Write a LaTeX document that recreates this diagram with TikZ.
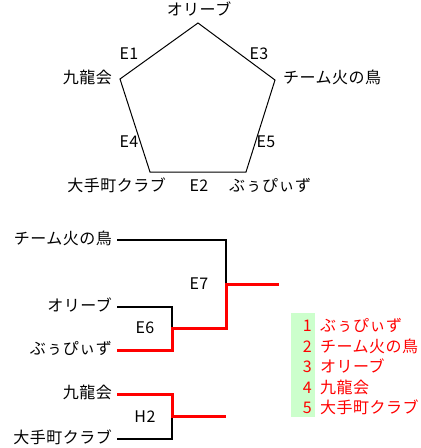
\documentclass[tikz,border=0pt]{standalone}
\usepackage{fontspec}
\setmainfont[LetterSpace=3]{Noto Sans CJK JP}
\usetikzlibrary{positioning}
\definecolor{winred}{RGB}{255,0,0}
\definecolor{rankgreen}{RGB}{204,255,204}

\begin{document}
\begin{tikzpicture}[
    x=1pt, y=-1pt,
    label/.style={inner sep=0pt, font=\fontsize{16}{16}\selectfont, text height=14pt, text depth=2pt},
    rank/.style={label, text=winred},
    pent/.style={line width=1pt},
    lose/.style={line width=2pt},
    win/.style={line width=3pt, draw=winred}
]
\useasboundingbox (0,0) rectangle (421,448);

% Pentagon (league)
\coordinate (vOlive) at (198,23);
\coordinate (vKyu) at (120,79);
\coordinate (vFire) at (275,80);
\coordinate (vOte) at (150,172);
\coordinate (vPuu) at (246,172);

\node[label] (olive) at (199,9) {オリーブ};
\node[label, anchor=east] (kyu) at (112,77) {九龍会};
\node[label, anchor=west] (fire) at (283,77) {チーム火の鳥};
\node[label, anchor=east] (ote) at (166,185) {大手町クラブ};
\node[label, anchor=west] (puu) at (229,185) {ぶぅぴぃず};

\draw[pent] (vOlive) -- (vFire) -- (vPuu) -- (vOte) -- (vKyu) -- cycle;

\node[label] (e1) at (129,53) {E1};
\node[label] (e3) at (259,53) {E3};
\node[label] (e4) at (129,141) {E4};
\node[label] (e5) at (266,141) {E5};
\node[label] (e2) at (199,185) {E2};

% Bracket (tournament)
\node[label, anchor=east] (tFire) at (112,238.5) {チーム火の鳥};
\node[label, anchor=east] (tOlive) at (112,305.5) {オリーブ};
\node[label, anchor=east] (tPuu) at (112,348.5) {ぶぅぴぃず};
\node[label, anchor=east] (tKyu) at (112,392.5) {九龍会};
\node[label, anchor=east] (tOte) at (112,437.5) {大手町クラブ};

\coordinate (sFire) at (117,240);
\coordinate (sOlive) at (117,307);
\coordinate (sPuu) at (117,350);
\coordinate (sKyu) at (117,394);
\coordinate (sOte) at (117,439);
\coordinate (jE6) at (172,328);
\coordinate (jH2) at (172,416);
\coordinate (jE7) at (226,284);
\coordinate (outE6) at (226,328);
\coordinate (outH2) at (226,416);
\coordinate (outE7) at (279,284);

\draw[lose] (sFire) -| (jE7);
\draw[lose] (sOlive) -| (jE6);
\draw[lose] (sOte) -| (jH2);
\draw[win] (sPuu) -| (jE6) -- (outE6) |- (outE7);
\draw[win] (sKyu) -| (jH2) -- (outH2);

\node[label] (e7) at (199,283) {E7};
\node[label] (e6) at (145,327) {E6};
\node[label] (h2) at (145,416) {H2};

% Ranking
\fill[rankgreen] (291,313) rectangle (315,417);
\node[rank, anchor=east] (n1) at (312,325.5) {1};
\node[rank, anchor=east] (n2) at (312,346) {2};
\node[rank, anchor=east] (n3) at (312,366.5) {3};
\node[rank, anchor=east] (n4) at (312,387) {4};
\node[rank, anchor=east] (n5) at (312,407.5) {5};
\node[rank, anchor=west] (r1) at (320,325.5) {ぶぅぴぃず};
\node[rank, anchor=west] (r2) at (320,346) {チーム火の鳥};
\node[rank, anchor=west] (r3) at (320,366.5) {オリーブ};
\node[rank, anchor=west] (r4) at (320,387) {九龍会};
\node[rank, anchor=west] (r5) at (320,407.5) {大手町クラブ};

\end{tikzpicture}
\end{document}
